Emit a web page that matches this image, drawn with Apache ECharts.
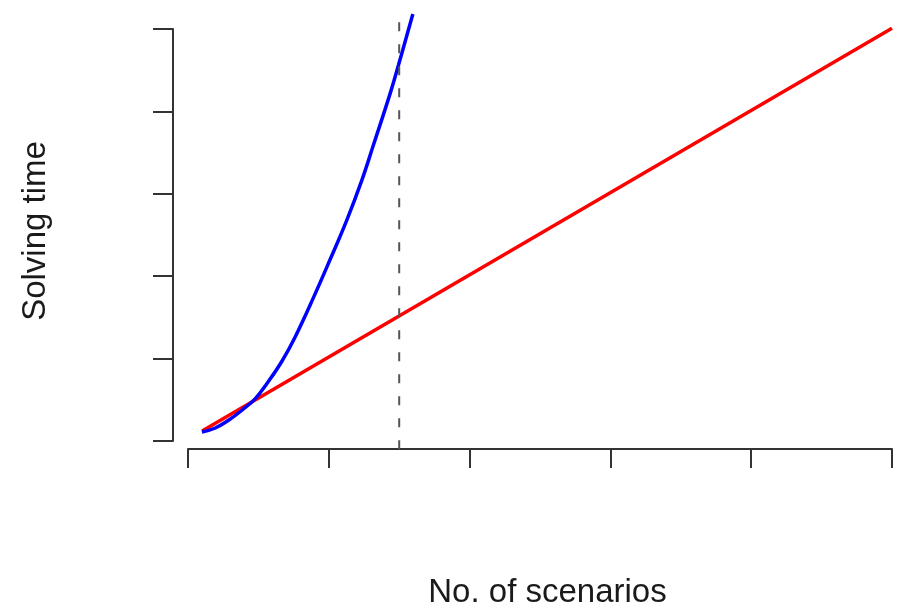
<!DOCTYPE html>
<html>
<head>
<meta charset="utf-8">
<script src="https://cdn.jsdelivr.net/npm/echarts@6/dist/echarts.min.js"></script>
<style>html,body{margin:0;padding:0;background:#fff}#c{width:901px;height:606px}</style>
</head>
<body>
<div id="c"></div>
<script>
// Axis titles
var xTitle = 'No. of scenarios';
var yTitle = 'Solving time';
// Tick positions (no labels shown)
var xTicks = [0, 1, 2, 3, 4, 5];
var yTicks = [0, 1, 2, 3, 4, 5];
// Red series: linear
var redX = [0.10, 5.00];
var redY = [0.12, 5.01];
// Blue series
var blueX = [0.099, 0.194, 0.288, 0.383, 0.478, 0.572, 0.667, 0.761, 0.891, 1.010, 1.128, 1.235, 1.317, 1.436, 1.495, 1.597];
var blueY = [0.109, 0.158, 0.251, 0.373, 0.515, 0.725, 0.968, 1.263, 1.740, 2.205, 2.681, 3.166, 3.592, 4.219, 4.563, 5.182];
// Dashed vertical line
var vlineX = [1.5, 1.5];
var vlineY = [-0.10, 5.18];

function pairs(xs, ys) { return xs.map(function (x, i) { return [x, ys[i]]; }); }

var chart = echarts.init(document.getElementById('c'), null, { renderer: 'canvas' });
var axisColor = '#333';
chart.setOption({
  animation: false,
  backgroundColor: '#fff',
  grid: { left: 188, right: 9, top: 29, bottom: 165, containLabel: false, outerBoundsMode: 'none' },
  xAxis: {
    type: 'value', min: xTicks[0], max: xTicks[xTicks.length - 1], interval: 1,
    offset: 8,
    axisLine: { show: true, onZero: false, lineStyle: { color: axisColor, width: 2 } },
    axisTick: { show: true, length: 19, lineStyle: { color: axisColor, width: 2 } },
    axisLabel: { show: false },
    splitLine: { show: false },
    name: xTitle, nameLocation: 'middle', nameGap: 127,
    nameTextStyle: { fontFamily: 'Liberation Sans', fontSize: 33, color: '#1a1a1a', padding: [0, 0, 0, 15] }
  },
  yAxis: {
    type: 'value', min: yTicks[0], max: yTicks[yTicks.length - 1], interval: 1,
    offset: 15,
    axisLine: { show: true, onZero: false, lineStyle: { color: axisColor, width: 2 } },
    axisTick: { show: true, length: 20, lineStyle: { color: axisColor, width: 2 } },
    axisLabel: { show: false },
    splitLine: { show: false },
    name: yTitle, nameLocation: 'middle', nameGap: 121, nameRotate: 90,
    nameTextStyle: { fontFamily: 'Liberation Sans', fontSize: 33, color: '#1a1a1a', padding: [0, 0, 0, 8] }
  },
  series: [
    {
      type: 'line', data: pairs(redX, redY), showSymbol: false, clip: false, z: 2,
      lineStyle: { color: '#ff0000', width: 3.5 }
    },
    {
      type: 'line', data: pairs(blueX, blueY), showSymbol: false, clip: false, smooth: 0.4, z: 3,
      lineStyle: { color: '#0000ff', width: 3.5 }
    },
    {
      type: 'line', data: pairs(vlineX, vlineY), showSymbol: false, clip: false, z: 4,
      lineStyle: { color: '#555', width: 2, type: [9, 13] }
    }
  ]
});
</script>
</body>
</html>
